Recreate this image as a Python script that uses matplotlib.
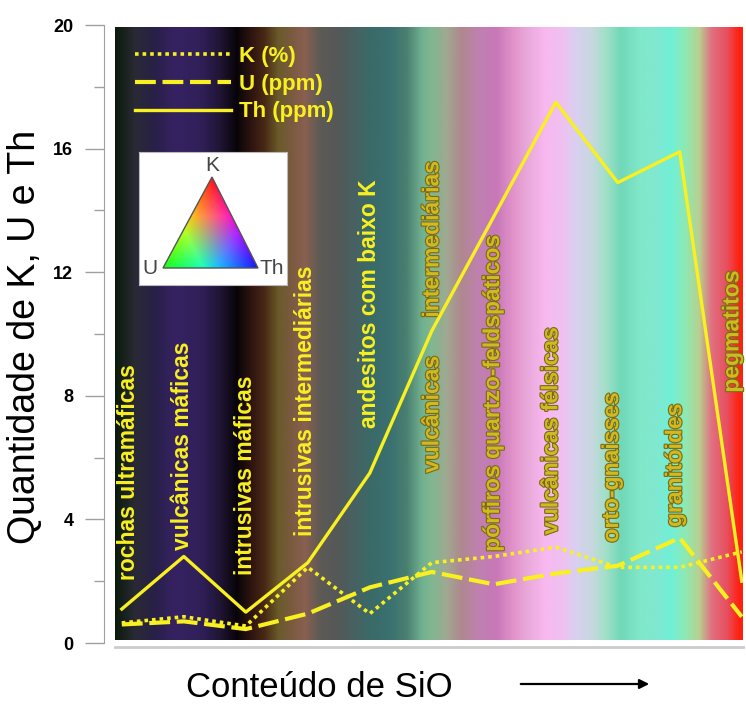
import matplotlib
matplotlib.use("Agg")
import matplotlib.pyplot as plt
import numpy as np
from matplotlib import patheffects as pe
from matplotlib.colors import to_rgb
from matplotlib.patches import Polygon, FancyArrowPatch

plt.rcParams["font.family"] = ["Liberation Sans", "DejaVu Sans"]

# rock types, ordered by SiO2 content
rocks = [
    "rochas ultramáficas", "vulcânicas máficas", "intrusivas máficas",
    "intrusivas intermediárias", "andesitos com baixo K", "vulcânicas intermediárias",
    "pórfiros quartzo-feldspáticos", "vulcânicas félsicas", "orto-gnaisses",
    "granitóides", "pegmatitos",
]
k_pct = [0.65, 0.85, 0.55, 2.45, 0.95, 2.6, 2.8, 3.1, 2.45, 2.45, 2.95]
u_ppm = [0.6, 0.7, 0.45, 0.95, 1.8, 2.3, 1.9, 2.25, 2.5, 3.4, 0.85]
th_ppm = [1.1, 2.8, 1.0, 2.6, 5.5, 10.1, 13.8, 17.5, 14.9, 15.9, 2.0]

# background colour stripes (position along the SiO2 axis, colour)
bg_pos = [-0.11, 0.21, 0.53, 0.85, 1.26, 1.58, 1.85, 2.10, 2.31, 2.52, 2.74, 2.95,
          3.19, 3.47, 3.71, 4.0, 4.32, 4.60, 4.84, 5.0, 5.24, 5.48, 5.77, 6.05,
          6.29, 6.53, 6.82, 7.10, 7.34, 7.58, 7.82, 8.06, 8.35, 8.63, 8.87, 9.11,
          9.32, 9.52, 9.76, 9.97, 10.02]
bg_col = ["#0a1a0a", "#2a2a35", "#282048", "#362262", "#30205a", "#201535", "#080408",
          "#301510", "#4a2a15", "#6a5a2a", "#7a5a40", "#8a6050", "#5e5a55", "#555858",
          "#4a6060", "#3a6a68", "#3a7070", "#4a8070", "#70b090", "#80b890", "#a0a890",
          "#b08890", "#c080b0", "#c878b8", "#e090c8", "#e8a8d8", "#f8b8f0", "#f0c0f0",
          "#d8d0f0", "#c8d8e0", "#a0e0c8", "#70d8b8", "#80e8c8", "#80e8d0", "#70f0d8",
          "#90e8b0", "#b8d090", "#e07080", "#e85060", "#ff2010", "#ff2010"]

# label layout: bottom of each rotated label (y units), x nudge
lab_bottom = [2.05, 3.0, 2.2, 3.45, 6.95, 5.5, 2.95, 3.5, 3.25, 3.75, 8.1]
lab_dx = [0.1, -0.02, 0.0, -0.03, 0.0, 0.0, -0.02, -0.08, -0.1, -0.08, -0.16]

YEL = "#f8f020"
x = np.arange(len(rocks))

fig = plt.figure(figsize=(7.46, 7.04), dpi=100)
ax = fig.add_axes([115 / 746, 1 - 643 / 704, 628 / 746, 618 / 704])
ax.set_xlim(-0.11, 10.02)
ax.set_ylim(0, 20)

# background gradient
xs = np.linspace(-0.11, 10.02, 800)
rgb = np.array([to_rgb(c) for c in bg_col])
strip = np.stack([np.interp(xs, bg_pos, rgb[:, i]) for i in range(3)], axis=-1)
ax.imshow(strip[np.newaxis, :, :], extent=(-0.11, 10.02, 0.1, 19.93), aspect="auto",
          interpolation="bilinear", zorder=0)

ax.plot(x, k_pct, color=YEL, lw=2.6, ls=(0, (1, 1.1)), label="K (%)", zorder=3)
ax.plot(x, u_ppm, color=YEL, lw=3.0, ls=(0, (5, 1.6)), label="U (ppm)", zorder=3)
ax.plot(x, th_ppm, color=YEL, lw=2.4, ls="-", label="Th (ppm)", zorder=3)

leg = ax.legend(loc="upper left", bbox_to_anchor=(135 / 746, 1 - 46 / 704),
                bbox_transform=fig.transFigure, frameon=False, borderpad=0,
                borderaxespad=0, handlelength=4.3, handletextpad=0.4,
                labelspacing=0.3, prop={"weight": "bold", "size": 16})
for t in leg.get_texts():
    t.set_color(YEL)

# rotated rock labels
for i, name in enumerate(rocks):
    late = i >= 5
    col = "#d0ba20" if late else YEL
    if name == "vulcânicas intermediárias":
        name = "vulcânicas" + " " * 6 + "intermediárias"
    t = ax.text(i + lab_dx[i], lab_bottom[i], name, rotation=90, ha="center", va="bottom",
                fontsize=16.5, fontweight="bold", color=col, zorder=2)
    if late:
        t.set_path_effects([pe.withStroke(linewidth=1.6, foreground="#7a6a18")])

# axes styling
for s in ["top", "right"]:
    ax.spines[s].set_visible(False)
ax.spines["left"].set_position(("outward", 8))
ax.spines["left"].set_color("#a0a0a0")
ax.spines["bottom"].set_position(("outward", 3))
ax.spines["bottom"].set_color("#cccccc")
ax.spines["bottom"].set_linewidth(2)
ax.set_xticks([])
ax.set_yticks(np.arange(0, 21, 4))
ax.set_yticks(np.arange(2, 20, 4), minor=True)
ax.tick_params(axis="y", which="major", length=14, width=1, color="#a0a0a0",
               labelsize=13, pad=8)
ax.tick_params(axis="y", which="minor", length=7, width=1, color="#a0a0a0")
for lbl in ax.get_yticklabels():
    lbl.set_fontweight("bold")

fig.text(25 / 746, 1 - 337 / 704, "Quantidade de K, U e Th", rotation=90,
         ha="center", va="center", fontsize=27)
fig.text(319 / 746, 1 - 697 / 704, "Conteúdo de SiO", ha="center", va="baseline",
         fontsize=25)
fig.add_artist(FancyArrowPatch(
    (518 / 746, 1 - 684 / 704), (652 / 746, 1 - 684 / 704), transform=fig.transFigure,
    arrowstyle="-|>", mutation_scale=14, color="black", lw=1.6))

# ternary K-U-Th colour key
ins = fig.add_axes([139 / 746, 1 - 285 / 704, 148 / 746, 133 / 704])
ins.set_xlim(0, 148)
ins.set_ylim(0, 133)
ins.set_xticks([])
ins.set_yticks([])
for s in ins.spines.values():
    s.set_color("#bbbbbb")
pk, pu, pt = np.array([73, 108]), np.array([24, 17]), np.array([119, 17])
gx, gy = np.meshgrid(np.linspace(0, 148, 300), np.linspace(0, 133, 270))
T = np.array([[pk[0] - pt[0], pu[0] - pt[0]], [pk[1] - pt[1], pu[1] - pt[1]]])
inv = np.linalg.inv(T)
bk = inv[0, 0] * (gx - pt[0]) + inv[0, 1] * (gy - pt[1])
bu = inv[1, 0] * (gx - pt[0]) + inv[1, 1] * (gy - pt[1])
bt = 1 - bk - bu
img = np.clip(np.stack([bk, bu, bt], axis=-1) * 1.6 + 0.08, 0, 1)
im = ins.imshow(img, extent=(0, 148, 0, 133), origin="lower", aspect="auto")
tri = Polygon([pk, pu, pt], closed=True, fc="none", ec="#555555", lw=1)
ins.add_patch(tri)
im.set_clip_path(tri)
ins.text(73, 110, "K", ha="center", va="bottom", fontsize=15, color="#444444")
ins.text(18, 16, "U", ha="right", va="center", fontsize=15, color="#444444")
ins.text(120, 16, "Th", ha="left", va="center", fontsize=15, color="#444444")

fig.savefig("out.png", dpi=100)
